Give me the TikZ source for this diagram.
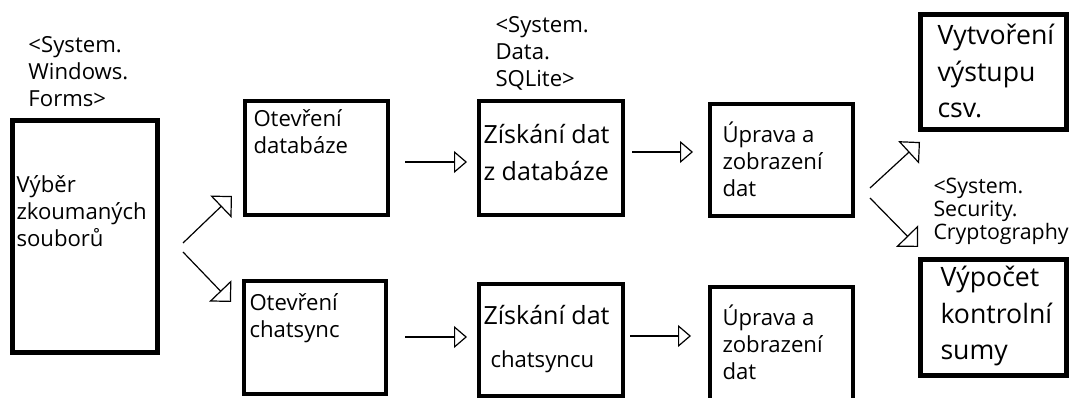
\documentclass[tikz,border=0pt]{standalone}
\usepackage{fontspec}
\setmainfont{Open Sans}
\usetikzlibrary{arrows.meta}

\tikzset{every picture/.style={line width=0.75pt}}
\tikzset{
  box/.style 2 args={draw, line width=3pt, minimum width=#1*0.75pt, minimum height=#2*0.75pt, inner sep=0pt},
  thickbox/.style={line width=3.75pt},
  smalltxt/.style={anchor=base west, inner sep=0pt, align=left, font=\fontsize{16.6}{20.6}\selectfont},
  bigtxt/.style={anchor=base west, inner sep=0pt, align=left, font=\fontsize{18.8}{27.75}\selectfont},
  hugetxt/.style={anchor=base west, inner sep=0pt, align=left, font=\fontsize{20}{27.5}\selectfont},
  flowarr/.style={-{Triangle[open,length=9.75pt,width=16.5pt]}, line width=0.9pt},
  brancharr/.style={-{Triangle[open,length=11.6pt,width=23pt]}, line width=0.9pt}
}

\begin{document}
\begin{tikzpicture}[x=0.75pt,y=0.75pt,yscale=-1,xscale=1]
	\useasboundingbox (0,0) rectangle (1075,398);
	%Shape: Rectangle [id:vyber]
	\node [box={145}{232}, thickbox] (vyber) at (85,236.5) {};
	%Shape: Rectangle [id:otdb]
	\node [box={143}{114}] (otdb) at (316.5,158) {};
	%Shape: Rectangle [id:otchat]
	\node [box={142}{113}] (otchat) at (315,337.5) {};
	%Shape: Rectangle [id:zdb]
	\node [box={144}{114}] (zdb) at (551,158) {};
	%Shape: Rectangle [id:zchat]
	\node [box={144}{112}] (zchat) at (551,340) {};
	%Shape: Rectangle [id:upr1]
	\node [box={143}{112}] (upr1) at (781.5,160) {};
	%Shape: Rectangle [id:upr2]
	\node [box={143}{114}] (upr2) at (781.5,344) {};
	%Shape: Rectangle [id:vyt]
	\node [box={146}{115}, thickbox] (vyt) at (993,72.5) {};
	%Shape: Rectangle [id:vyp]
	\node [box={146}{116}, thickbox] (vyp) at (993,318) {};

	% Arrow ends
	\coordinate (b1s) at (183,243);  \coordinate (b1e) at (232,196);
	\coordinate (b2s) at (183,252);  \coordinate (b2e) at (231,302);
	\coordinate (f1s) at (405,162);  \coordinate (f1e) at (467,162);
	\coordinate (f2s) at (405,337);  \coordinate (f2e) at (467,337);
	\coordinate (f3s) at (632,152);  \coordinate (f3e) at (693,152);
	\coordinate (f4s) at (630,336);  \coordinate (f4e) at (691,336);
	\coordinate (b3s) at (870,188);  \coordinate (b3e) at (920,142);
	\coordinate (b4s) at (870,198);  \coordinate (b4e) at (918,247);

	%Arrows
	\draw [brancharr] (b1s) -- (b1e);
	\draw [brancharr] (b2s) -- (b2e);
	\draw [flowarr] (f1s) -- (f1e);
	\draw [flowarr] (f2s) -- (f2e);
	\draw [flowarr] (f3s) -- (f3e);
	\draw [flowarr] (f4s) -- (f4e);
	\draw [brancharr] (b3s) -- (b3e);
	\draw [brancharr] (b4s) -- (b4e);

	% Text Node (anchored on the last line)
	\node [smalltxt] (libforms) at (28,107) {<System.\\Windows.\\Forms>};
	% Text Node
	\node [smalltxt] (libsql) at (495,87) {<System.\\Data.\\SQLite>};
	% Text Node
	\node [smalltxt, font=\fontsize{16}{17.6}\selectfont] (libcrypt) at (933,240) {<System.\\Security.\\Cryptography};
	% Text Node
	\node [smalltxt] (txtvyber) at (16,247) {Výběr\\zkoumaných\\souborů};
	% Text Node
	\node [smalltxt] (txtotdb) at (253,154) {Otevření\\databáze};
	% Text Node
	\node [smalltxt] (txtotchat) at (249,338) {Otevření\\chatsync};
	% Text Node
	\node [bigtxt] (txtzdb) at (483,181) {Získání dat\\z databáze};
	% Text Node
	\node [bigtxt] (txtzchat) at (483,325) {Získání dat};
	% Text Node
	\node [smalltxt] (txtchatsyncu) at (490,368) {chatsyncu};
	% Text Node
	\node [smalltxt] (txtupr1) at (722,197) {Úprava a\\zobrazení\\dat};
	% Text Node
	\node [smalltxt] (txtupr2) at (722,380) {Úprava a\\zobrazení\\dat};
	% Text Node
	\node [hugetxt] (txtvyt) at (937,118) {Vytvoření\\výstupu\\csv.};
	% Text Node
	\node [hugetxt] (txtvyp) at (940,360) {Výpočet\\kontrolní\\sumy};
\end{tikzpicture}
\end{document}
